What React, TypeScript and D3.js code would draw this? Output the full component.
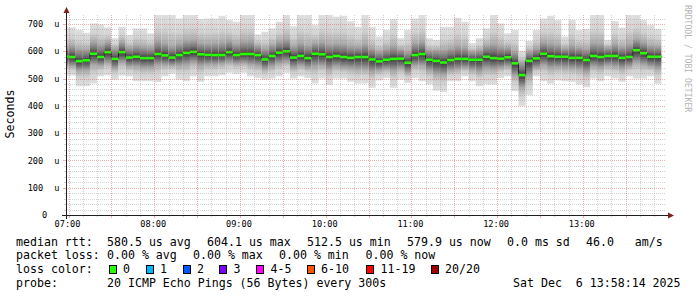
import React from "react";
import * as d3 from "d3";

// ---- data (5-minute steps, value = end of step) ----
const stepEnds = [
  "07:00","07:05","07:10","07:15","07:20","07:25","07:30","07:35","07:40","07:45","07:50","07:55",
  "08:00","08:05","08:10","08:15","08:20","08:25","08:30","08:35","08:40","08:45","08:50","08:55",
  "09:00","09:05","09:10","09:15","09:20","09:25","09:30","09:35","09:40","09:45","09:50","09:55",
  "10:00","10:05","10:10","10:15","10:20","10:25","10:30","10:35","10:40","10:45","10:50","10:55",
  "11:00","11:05","11:10","11:15","11:20","11:25","11:30","11:35","11:40","11:45","11:50","11:55",
  "12:00","12:05","12:10","12:15","12:20","12:25","12:30","12:35","12:40","12:45","12:50","12:55",
  "13:00","13:05","13:10","13:15","13:20","13:25","13:30","13:35","13:40","13:45","13:50","13:55",
];
const medianRtt = [
  581,579,564,567,591,579,597,572,597,577,580,575,575,590,585,577,586,594,598,589,587,
  586,586,597,586,590,590,586,570,583,595,600,577,583,575,591,589,579,583,579,576,579,
  579,570,563,569,572,573,558,586,590,569,565,559,568,572,572,569,569,580,575,573,578,
  556,512.5,565,574,591,582,580,580,576,576,568,583,579,583,583,576,579,604.1,593,580,579.9,
];
const pingMin = [
  511,511,472,472,482,508,512,496,511,508,490,490,490,487,508,518,496,490,508,488,508,
  508,512,521,517,521,508,502,496,500,508,521,500,508,502,482,500,476,500,500,488,481,
  482,466,493,502,466,496,484,502,490,478,456,451,490,490,508,490,472,478,478,502,508,
  454,399,439,508,490,481,493,490,488,478,468,500,490,508,500,488,508,500,500,508,481,
];
const pingLow = [
  548,546,530,532,552,548,558,538,560,545,545,540,540,550,550,548,548,552,560,548,552,
  552,555,560,555,558,552,548,535,545,556,562,540,548,540,545,548,535,545,540,538,535,
  535,525,530,536,530,538,522,548,548,530,518,515,530,535,540,532,525,538,535,540,545,
  512,468,510,540,550,540,542,540,538,535,525,545,540,548,545,538,545,560,552,545,538,
];
const pingHigh = [
  620,622,610,608,636,625,635,612,635,615,622,618,615,640,632,620,630,640,642,632,630,
  632,634,640,628,638,640,622,612,625,638,645,620,632,622,632,636,628,630,628,620,618,
  628,612,600,610,620,608,600,632,638,605,605,605,612,620,615,600,605,622,628,618,615,
  600,560,600,612,635,630,625,612,622,615,610,632,630,615,628,618,628,645,635,622,620,
];
const pingMax = [
  688,688,678,668,702,699,688,648,690,660,684,684,666,735,735,735,720,735,735,718,720,
  720,730,715,708,735,735,662,672,684,708,735,692,735,735,696,735,735,727,730,710,690,
  735,690,654,678,718,648,678,720,735,648,642,690,690,723,708,630,648,684,735,702,666,
  678,602,638,678,720,730,715,654,715,678,682,735,735,642,711,687,735,735,715,696,682,
];

const yTicks = [0, 100, 200, 300, 400, 500, 600, 700];
const xTickLabels = ["07:00", "08:00", "09:00", "10:00", "11:00", "12:00", "13:00"];

const lossLabels = ["0", "1", "2", "3", "4-5", "6-10", "11-19", "20/20"];
const lossColors = ["#26ff00", "#00b8ff", "#0059ff", "#7e00ff", "#ff00ff", "#ff5500", "#ff0000", "#a10000"];

const statsRtt = ["580.5 us avg", "604.1 us max", "512.5 us min", "579.9 us now", "0.0 ms sd", "46.0   am/s"];
const statsLoss = ["0.00 % avg", "0.00 % max", "0.00 % min", "0.00 % now"];
const probeText = "20 ICMP Echo Pings (56 Bytes) every 300s";
const dateText = "Sat Dec  6 13:58:14 2025";

// ---- layout ----
const hm = (s: string) => {
  const [h, m] = s.split(":").map(Number);
  return Date.UTC(2025, 11, 6, h, m, 0);
};
const T0 = Date.UTC(2025, 11, 6, 6, 58, 14);
const T1 = Date.UTC(2025, 11, 6, 13, 58, 14);
const PL = 66, PR = 666, PT = 15, PB = 215;
const YMAX = 733;
const MONO = "'DejaVu Sans Mono', monospace";
const GRID = "rgba(143,143,143,0.38)";
const MGRID = "rgba(222,79,79,0.45)";

export default function App() {
  const x = d3.scaleUtc().domain([T0, T1]).range([PL, PR]);
  const y = d3.scaleLinear().domain([0, YMAX]).range([PB, PT]);

  const steps = stepEnds.map((s, i) => {
    const end = hm(s);
    return { start: end - 5 * 60000, end, med: medianRtt[i], mn: pingMin[i], lo: pingLow[i], hi: pingHigh[i], mx: pingMax[i] };
  });

  const minorV = d3.utcMinute.every(10)!.range(new Date(T0), new Date(T1)).filter((d) => d.getUTCMinutes() % 30 !== 0);
  const majorV = d3.utcMinute.every(30)!.range(new Date(T0), new Date(T1));
  const minorH = d3.range(20, YMAX, 20).filter((v) => v % 100 !== 0);
  const majorH = d3.range(100, YMAX, 100);

  const medPts: [number, number][] = [];
  steps.forEach((s) => {
    medPts.push([x(s.start), y(s.med)]);
    medPts.push([x(s.end), y(s.med)]);
  });
  const medLine = d3.line()(medPts) || "";

  const r = (v: number) => Math.round(v) + 0.5;

  const legendY = [245.5, 259.3, 273.1, 286.9];
  const rttX = [107, 207, 307, 407, 507, 586];
  const lossX = [107, 193, 279, 365.5];
  const boxX = [108.5, 145.5, 182.5, 219, 256, 306.5, 366, 430.5];

  return (
    <svg width={697} height={297} style={{ position: "fixed", left: 0, top: 0, display: "block" }} xmlns="http://www.w3.org/2000/svg">
      <defs>
        <clipPath id="plot">
          <rect x={PL} y={PT} width={PR - PL} height={PB - PT} />
        </clipPath>
        {steps.map((s, i) => {
          const y1 = y(s.mx), y2 = y(s.mn);
          const o = (v: number) => Math.max(0, Math.min(1, (y(v) - y1) / (y2 - y1)));
          const oh = o(s.hi), om = o(s.med), ol = o(s.lo);
          return (
            <linearGradient key={i} id={`sg${i}`} gradientUnits="userSpaceOnUse" x1={0} x2={0} y1={y1} y2={y2}>
              <stop offset={0} stopColor="#dfdfdf" />
              <stop offset={oh * 0.55} stopColor="#d2d2d2" />
              <stop offset={oh} stopColor="#ababab" />
              <stop offset={oh + (om - oh) * 0.6} stopColor="#707070" />
              <stop offset={om} stopColor="#363636" />
              <stop offset={om + (ol - om) * 0.4} stopColor="#606060" />
              <stop offset={ol} stopColor="#a6a6a6" />
              <stop offset={ol + (1 - ol) * 0.45} stopColor="#d0d0d0" />
              <stop offset={1} stopColor="#dfdfdf" />
            </linearGradient>
          );
        })}
      </defs>
      <rect x={0} y={0} width={697} height={297} fill="#ffffff" />

      <g clipPath="url(#plot)">
        {steps.map((s, i) => (
          <rect key={i} x={x(s.start)} width={x(s.end) - x(s.start)} y={y(s.mx)} height={y(s.mn) - y(s.mx)} fill={`url(#sg${i})`} />
        ))}
        <path d={medLine} fill="none" stroke="#202020" strokeWidth={1} />
        {steps.map((s, i) => (
          <rect key={i} x={x(s.start)} width={x(s.end) - x(s.start)} y={y(s.med) - 1.3} height={2.6} fill={lossColors[0]} />
        ))}
      </g>

      {/* grid */}
      <g strokeWidth={1} shapeRendering="crispEdges">
        {minorH.map((v) => (
          <g key={`mh${v}`}>
            <line x1={PL} x2={PR} y1={r(y(v))} y2={r(y(v))} stroke={GRID} strokeDasharray="1,1" />
            <line x1={PL - 2} x2={PL} y1={r(y(v))} y2={r(y(v))} stroke={GRID} />
          </g>
        ))}
        {minorV.map((d) => (
          <g key={`mv${+d}`}>
            <line y1={PT} y2={PB} x1={r(x(d))} x2={r(x(d))} stroke={GRID} strokeDasharray="1,1" />
            <line y1={PB} y2={PB + 2} x1={r(x(d))} x2={r(x(d))} stroke={GRID} />
          </g>
        ))}
        {majorH.map((v) => (
          <g key={`Mh${v}`}>
            <line x1={PL} x2={PR} y1={r(y(v))} y2={r(y(v))} stroke={MGRID} strokeDasharray="1,1" />
            <line x1={PL - 3} x2={PL} y1={r(y(v))} y2={r(y(v))} stroke={MGRID} />
          </g>
        ))}
        {majorV.map((d) => (
          <g key={`Mv${+d}`}>
            <line y1={PT} y2={PB} x1={r(x(d))} x2={r(x(d))} stroke={MGRID} strokeDasharray="1,1" />
            <line y1={PB} y2={PB + 3} x1={r(x(d))} x2={r(x(d))} stroke={MGRID} />
          </g>
        ))}
      </g>

      {/* axes */}
      <g shapeRendering="crispEdges">
        <line x1={PL - 4} x2={PR + 4} y1={PB + 0.5} y2={PB + 0.5} stroke="#1f1f1f" />
        <line x1={PL + 0.5} x2={PL + 0.5} y1={PB + 4} y2={PT - 3} stroke="#1f1f1f" />
      </g>
      <path d={`M${PR + 2},${PB - 2.5}L${PR + 8},${PB + 0.5}L${PR + 2},${PB + 3.5}Z`} fill="#801f1f" />
      <path d={`M${PL - 2.5},${PT - 2}L${PL + 0.5},${PT - 8}L${PL + 3.5},${PT - 2}Z`} fill="#801f1f" />

      {/* axis labels */}
      <g fontFamily={MONO} fontSize={8.6} fill="#000">
        {yTicks.map((v) =>
          v === 0 ? (
            <text key={v} x={47.2} y={y(v)} dy="0.36em" textAnchor="end">0</text>
          ) : (
            <text key={v} y={y(v)} dy="0.36em" xmlSpace="preserve">
              <tspan x={43.2} textAnchor="end">{String(v)}</tspan>
              <tspan x={49}>{" u"}</tspan>
            </text>
          )
        )}
        {xTickLabels.map((s) => (
          <text key={s} x={x(hm(s)) - 1} y={227} textAnchor="middle">{s}</text>
        ))}
      </g>

      <text x={13.5} y={114} transform="rotate(-90 13.5 114)" textAnchor="middle" fontFamily={MONO} fontSize={11.6} fill="#000">Seconds</text>
      <text x={685} y={5} transform="rotate(90 685 5)" fontFamily={MONO} fontSize={8.1} fill="#b4b4b4">RRDTOOL / TOBI OETIKER</text>

      {/* legend */}
      <g fontFamily={MONO} fontSize={11.6} fill="#000">
        <text x={16} y={legendY[0]}>median rtt:</text>
        {statsRtt.map((s, i) => (
          <text key={s} x={rttX[i]} y={legendY[0]} xmlSpace="preserve">{s}</text>
        ))}
        <text x={16} y={legendY[1]}>packet loss:</text>
        {statsLoss.map((s, i) => (
          <text key={s} x={lossX[i]} y={legendY[1]} xmlSpace="preserve">{s}</text>
        ))}
        <text x={16} y={legendY[2]}>loss color:</text>
        {lossLabels.map((s, i) => (
          <g key={s}>
            <rect x={boxX[i] + 0.5} y={265.5} width={7} height={8} fill={lossColors[i]} stroke="#000" strokeWidth={1} shapeRendering="crispEdges" />
            <text x={boxX[i] + 14.6} y={legendY[2]}>{s}</text>
          </g>
        ))}
        <text x={16} y={legendY[3]}>probe:</text>
        <text x={107} y={legendY[3]}>{probeText}</text>
        <text x={513} y={legendY[3]} xmlSpace="preserve">{dateText}</text>
      </g>
    </svg>
  );
}
